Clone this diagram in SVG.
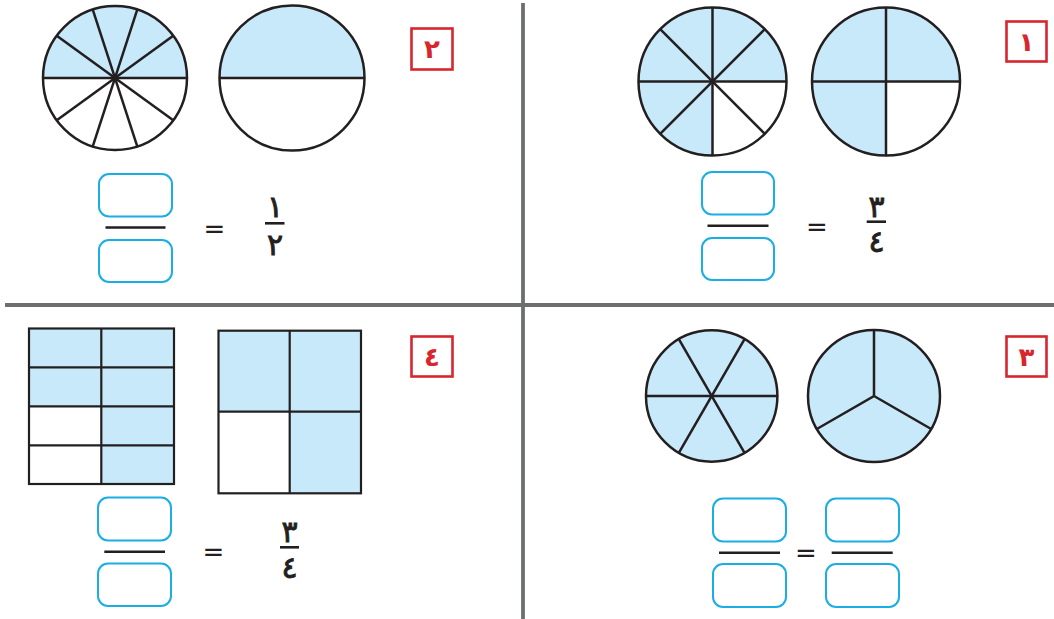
<svg xmlns="http://www.w3.org/2000/svg" width="1054" height="619" viewBox="0 0 1054 619">
<style>
.bl{fill:#c7e9f9}
.wh{fill:#ffffff}
.ol{fill:none;stroke:#231f20;stroke-width:2.5}
.sp{stroke:#231f20;stroke-width:2.5;fill:none}
.gr{stroke:#231f20;stroke-width:2.2}
.box{fill:none;stroke:#1aaee5;stroke-width:2}
.fl{stroke:#231f20;stroke-width:2.6}
.lab{fill:none;stroke:#d7262d;stroke-width:2.6}
.labt{fill:#d7262d;font-family:"DejaVu Sans",sans-serif;font-weight:bold;font-size:26px;text-anchor:middle}
.num{fill:#231f20;stroke:#231f20;stroke-width:0.9;font-family:"DejaVu Sans",sans-serif;font-size:30px;text-anchor:middle}
.eq{fill:#231f20;font-family:"DejaVu Sans",sans-serif;font-size:26px;text-anchor:middle}
.div{stroke:#6d6e70;stroke-width:3.8}
</style>
<g id="dividers">
<line class="div" x1="523" y1="3" x2="523" y2="619"/>
<line class="div" x1="5" y1="305" x2="1054" y2="305"/>
</g>
<g id="p2-circle10">
<circle class="wh" cx="115" cy="78" r="72"/>
<path class="bl" d="M43,78 A72,72 0 0 1 187,78 Z"/>
<line class="sp" x1="43" y1="78" x2="187" y2="78"/>
<line class="sp" x1="173.25" y1="35.68" x2="56.75" y2="120.32"/>
<line class="sp" x1="137.25" y1="9.52" x2="92.75" y2="146.48"/>
<line class="sp" x1="92.75" y1="9.52" x2="137.25" y2="146.48"/>
<line class="sp" x1="56.75" y1="35.68" x2="173.25" y2="120.32"/>
<circle class="ol" cx="115" cy="78" r="72"/>
</g>
<g id="p2-circle2">
<circle class="wh" cx="292" cy="78" r="72.5"/>
<path class="bl" d="M219.5,78 A72.5,72.5 0 0 1 364.5,78 Z"/>
<line class="sp" x1="219.5" y1="78" x2="364.5" y2="78"/>
<circle class="ol" cx="292" cy="78" r="72.5"/>
</g>
<g id="p2-label">
<rect class="lab" x="411.5" y="28.5" width="41" height="41"/>
<text class="labt" x="432" y="58">٢</text>
</g>
<g id="p2-fraction">
<rect class="box" x="99" y="174" width="73" height="42.5" rx="10"/>
<line class="fl" x1="105.5" y1="227.5" x2="165.5" y2="227.5"/>
<rect class="box" x="99" y="240" width="73" height="42" rx="10"/>
<text class="eq" x="214.5" y="238">=</text>
<text class="num" x="275" y="217">١</text>
<line class="fl" x1="265" y1="223.3" x2="284.5" y2="223.3"/>
<text class="num" x="275" y="255">٢</text>
</g>
<g id="p1-circle8">
<circle class="bl" cx="712.5" cy="81.5" r="74"/>
<path class="wh" d="M712.5,81.5 L786.5,81.5 A74,74 0 0 1 712.5,155.5 Z"/>
<line class="sp" x1="638.5" y1="81.5" x2="786.5" y2="81.5"/>
<line class="sp" x1="712.5" y1="7.5" x2="712.5" y2="155.5"/>
<line class="sp" x1="660.17" y1="29.17" x2="764.83" y2="133.83"/>
<line class="sp" x1="764.83" y1="29.17" x2="660.17" y2="133.83"/>
<circle class="ol" cx="712.5" cy="81.5" r="74"/>
</g>
<g id="p1-circle4">
<circle class="bl" cx="886" cy="81.5" r="74"/>
<path class="wh" d="M886,81.5 L960,81.5 A74,74 0 0 1 886,155.5 Z"/>
<line class="sp" x1="812" y1="81.5" x2="960" y2="81.5"/>
<line class="sp" x1="886" y1="7.5" x2="886" y2="155.5"/>
<circle class="ol" cx="886" cy="81.5" r="74"/>
</g>
<g id="p1-label">
<rect class="lab" x="1006.5" y="21.5" width="40" height="40"/>
<text class="labt" x="1026.5" y="51">١</text>
</g>
<g id="p1-fraction">
<rect class="box" x="702" y="172" width="72" height="42.5" rx="10"/>
<line class="fl" x1="707.5" y1="225.7" x2="768.5" y2="225.7"/>
<rect class="box" x="702" y="238" width="72" height="42" rx="10"/>
<text class="eq" x="817" y="236">=</text>
<text class="num" x="876.5" y="216.5">٣</text>
<line class="fl" x1="866.7" y1="221.7" x2="886" y2="221.7"/>
<text class="num" x="876.5" y="251.5">٤</text>
</g>
<g id="p4-grid8">
<rect class="bl" x="29" y="328.5" width="145" height="155.5"/>
<rect class="wh" x="29" y="406.3" width="72.3" height="77.7"/>
<line class="gr" x1="101.3" y1="328.5" x2="101.3" y2="484"/>
<line class="gr" x1="29" y1="367.3" x2="174" y2="367.3"/>
<line class="gr" x1="29" y1="406.3" x2="174" y2="406.3"/>
<line class="gr" x1="29" y1="445.3" x2="174" y2="445.3"/>
<rect class="ol" x="29" y="328.5" width="145" height="155.5" style="stroke-width:2.2"/>
</g>
<g id="p4-grid4">
<rect class="bl" x="218.5" y="330.7" width="142.5" height="162.6"/>
<rect class="wh" x="218.5" y="411.7" width="71.2" height="81.6"/>
<line class="gr" x1="289.7" y1="330.7" x2="289.7" y2="493.3"/>
<line class="gr" x1="218.5" y1="411.7" x2="361" y2="411.7"/>
<rect class="ol" x="218.5" y="330.7" width="142.5" height="162.6" style="stroke-width:2.2"/>
</g>
<g id="p4-label">
<rect class="lab" x="411.5" y="336.5" width="41" height="40"/>
<text class="labt" x="432" y="366">٤</text>
</g>
<g id="p4-fraction">
<rect class="box" x="98" y="497.5" width="73" height="43" rx="10"/>
<line class="fl" x1="104.3" y1="551.7" x2="165" y2="551.7"/>
<rect class="box" x="98" y="563.5" width="73" height="42.5" rx="10"/>
<text class="eq" x="213.5" y="561">=</text>
<text class="num" x="289.5" y="541.5">٣</text>
<line class="fl" x1="280" y1="547.3" x2="299" y2="547.3"/>
<text class="num" x="289.5" y="578">٤</text>
</g>
<g id="p3-circle6">
<circle class="bl" cx="711.7" cy="396" r="65.7"/>
<line class="sp" x1="646" y1="396" x2="777.4" y2="396"/>
<line class="sp" x1="744.55" y1="339.1" x2="678.85" y2="452.9"/>
<line class="sp" x1="678.85" y1="339.1" x2="744.55" y2="452.9"/>
<circle class="ol" cx="711.7" cy="396" r="65.7"/>
</g>
<g id="p3-circle3">
<circle class="bl" cx="874" cy="396" r="66"/>
<path class="sp" d="M874,330 L874,396 L816.84,429 M874,396 L931.16,429"/>
<circle class="ol" cx="874" cy="396" r="66"/>
</g>
<g id="p3-label">
<rect class="lab" x="1006.5" y="336.5" width="40" height="40"/>
<text class="labt" x="1026.5" y="366">٣</text>
</g>
<g id="p3-fraction">
<rect class="box" x="713" y="498.5" width="73" height="43" rx="10"/>
<line class="fl" x1="719" y1="552.7" x2="780" y2="552.7"/>
<rect class="box" x="713" y="564" width="73" height="43" rx="10"/>
<text class="eq" x="806" y="561.5">=</text>
<rect class="box" x="826" y="498.5" width="73" height="43" rx="10"/>
<line class="fl" x1="831.7" y1="552.7" x2="892.7" y2="552.7"/>
<rect class="box" x="826" y="564" width="73" height="43" rx="10"/>
</g>
</svg>
